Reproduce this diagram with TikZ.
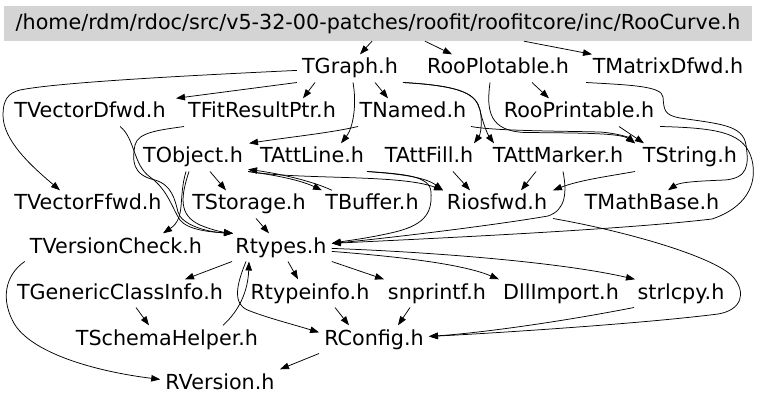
\documentclass[tikz,border=0pt]{standalone}
\usepackage{fontspec}
\setmainfont{DejaVu Sans}
\usetikzlibrary{arrows.meta}
\begin{document}
\begin{tikzpicture}[x=1pt,y=-1pt,
  lbl/.style={anchor=base,inner xsep=5pt,inner ysep=4pt,text height=15.5pt,text depth=4.3pt,
    font=\fontsize{20.7}{24}\selectfont},
  rootbox/.style={fill=black!17,draw=none,minimum width=748pt,minimum height=35pt,inner sep=0pt,
    text height=15.5pt,text depth=4.3pt,font=\fontsize{20.7}{24}\selectfont},
  edge/.style={draw=black,line width=0.75pt,-{Triangle[length=9pt,width=6.5pt]}}]
\useasboundingbox (0,0) rectangle (768,406);
\fill[white] (0,0) rectangle (768,406);
% nodes
\node[rootbox] (root) at (378,23.5) {/home/rdm/rdoc/src/v5-32-00-patches/roofit/roofitcore/inc/RooCurve.h};
\node[lbl] (tgraph) at (350,74) {TGraph.h};
\node[lbl] (rooplotable) at (498,74) {RooPlotable.h};
\node[lbl] (tmatrixdfwd) at (668,74) {TMatrixDfwd.h};
\node[lbl] (tvectordfwd) at (90,118) {TVectorDfwd.h};
\node[lbl] (tfitresultptr) at (262,118) {TFitResultPtr.h};
\node[lbl] (tnamed) at (413,118) {TNamed.h};
\node[lbl] (rooprintable) at (579,118) {RooPrintable.h};
\node[lbl] (tobject) at (193,163) {TObject.h};
\node[lbl] (tattline) at (312,163) {TAttLine.h};
\node[lbl] (tattfill) at (429,163) {TAttFill.h};
\node[lbl] (tattmarker) at (558,163) {TAttMarker.h};
\node[lbl] (tstring) at (690,163) {TString.h};
\node[lbl] (tvectorffwd) at (88,210) {TVectorFfwd.h};
\node[lbl] (tstorage) at (249,210) {TStorage.h};
\node[lbl] (tbuffer) at (372,210) {TBuffer.h};
\node[lbl] (riosfwd) at (497,210) {Riosfwd.h};
\node[lbl] (tmathbase) at (652,210) {TMathBase.h};
\node[lbl] (tversioncheck) at (116,253) {TVersionCheck.h};
\node[lbl] (rtypes) at (281,253) {Rtypes.h};
\node[lbl] (tgenericclassinfo) at (120,299) {TGenericClassInfo.h};
\node[lbl] (rtypeinfo) at (310,299) {Rtypeinfo.h};
\node[lbl] (snprintf) at (437,299) {snprintf.h};
\node[lbl] (dllimport) at (561,299) {DllImport.h};
\node[lbl] (strlcpy) at (681,299) {strlcpy.h};
\node[lbl] (tschemahelper) at (167,345) {TSchemaHelper.h};
\node[lbl] (rconfig) at (374,345) {RConfig.h};
\node[lbl] (rversion) at (220,389) {RVersion.h};
% edges from root
\draw[edge] ([xshift=-6pt]root.south) -- ([xshift=10pt]tgraph.north);
\draw[edge] ([xshift=47pt]root.south) -- ([xshift=-46pt]rooplotable.north);
\draw[edge] ([xshift=146pt]root.south) -- ([xshift=-76pt]tmatrixdfwd.north);
% TGraph
\draw[edge] (tgraph.south west) -- ([xshift=86pt]tvectordfwd.north);
\draw[edge] ([xshift=-35pt]tgraph.south) -- ([xshift=41pt]tfitresultptr.north);
\draw[edge] ([yshift=-2pt]tgraph.west) .. controls (200,75) and (60,82) .. (20,90)
  .. controls (8,93) and (3,100) .. (3,115) .. controls (3,140) and (30,165) .. ([xshift=-28pt]tvectorffwd.north);
\draw[edge] ([xshift=25pt]tgraph.south) -- ([xshift=-25pt]tnamed.north);
\draw[edge] ([xshift=3pt]tgraph.south) .. controls (357,105) and (353,128) .. ([xshift=29pt]tattline.north);
\draw[edge] ([xshift=53pt]tgraph.south) .. controls (465,86) and (476,95) .. (480,110)
  .. controls (483,124) and (480,135) .. ([xshift=45pt]tattfill.north);
\draw[edge] ([xshift=53pt]tgraph.south) .. controls (465,86) and (476,95) .. (480,110)
  .. controls (483,124) and (488,135) .. ([xshift=-64pt]tattmarker.north);
% RooPlotable
\draw[edge] ([xshift=34pt]rooplotable.south) -- ([xshift=-30pt]rooprintable.north);
\draw[edge] ([xshift=-8pt]rooplotable.south) .. controls (486,112) and (490,131) .. (525,132.5)
  .. controls (580,133) and (620,133) .. ([xshift=-55pt]tstring.north);
% TNamed
\draw[edge] ([xshift=58pt]tnamed.south) .. controls (495,131) and (560,131) .. (600,132)
  .. controls (615,133) and (628,137) .. ([xshift=-55pt]tstring.north);
\draw[edge] ([xshift=-55pt]tnamed.south) .. controls (330,133) and (290,137) .. ([xshift=56pt]tobject.north);
% RooPrintable
\draw[edge] ([xshift=40pt]rooprintable.south) -- ([xshift=-46pt]tstring.north);
\draw[edge] ([xshift=81pt]rooprintable.south) .. controls (720,128) and (745,133) .. (752,160)
  .. controls (758,185) and (745,208) .. (712,219) .. controls (620,230) and (420,239) .. ([yshift=4pt]rtypes.east);
% TMatrixDfwd
\draw[edge] ([xshift=-82pt]tmatrixdfwd.south) .. controls (630,85) and (662,86) .. (663,97)
  .. controls (664,110) and (664,115) .. (680,118) .. controls (720,124) and (743,125) .. (746,145)
  .. controls (749,165) and (748,178) .. (725,180) .. controls (700,181) and (680,182) .. ([xshift=16pt]tmathbase.north);
% TFitResultPtr, TVectorDfwd
\draw[edge] ([xshift=-78pt]tfitresultptr.south) .. controls (160,130) and (138,132) .. (135,145)
  .. controls (132,160) and (132,175) .. (155,180) .. controls (172,185) and (175,200) .. (178,212)
  .. controls (181,224) and (205,232) .. ([xshift=-48pt]rtypes.north);
\draw[edge] ([xshift=30pt]tvectordfwd.south) .. controls (135,138) and (133,165) .. (150,177)
  .. controls (168,190) and (172,208) .. (180,220) .. controls (188,230) and (210,232) .. ([xshift=-48pt]rtypes.north);
% TObject
\draw[edge] ([xshift=17pt]tobject.south) -- ([xshift=-23pt]tstorage.north);
\draw[edge] ([xshift=-7pt]tobject.south) .. controls (178,198) and (186,218) .. ([xshift=47pt]tversioncheck.north);
\draw[edge] ([xshift=-4pt]tobject.south) .. controls (181,196) and (178,215) .. (200,225)
  .. controls (212,230) and (222,232) .. ([xshift=-48pt]rtypes.north);
\draw[edge] (tobject.south east) .. controls (275,175) and (300,180) .. ([xshift=-50pt]tbuffer.north);
\draw[edge] ([xshift=-40pt]tbuffer.north) .. controls (310,180) and (275,173) .. ([yshift=-12pt]tobject.east);
\draw[edge] (tobject.south east) .. controls (300,180) and (400,174) .. ([xshift=-54pt]riosfwd.north);
% TAttLine
\draw[edge] ([xshift=55pt]tattline.south) .. controls (400,174) and (425,177) .. ([xshift=-54pt]riosfwd.north);
\draw[edge] ([xshift=55pt]tattline.south) .. controls (405,174) and (430,176) .. (431,192)
  .. controls (432,210) and (428,224) .. (395,232) .. controls (370,238) and (345,241) .. ([yshift=4pt]rtypes.east);
% TAttFill, TAttMarker, TString
\draw[edge] ([xshift=24pt]tattfill.south) -- ([xshift=-27pt]riosfwd.north);
\draw[edge] ([xshift=-22pt]tattmarker.south) -- ([xshift=24pt]riosfwd.north);
\draw[edge] ([xshift=5pt]tattmarker.south) .. controls (567,192) and (566,210) .. (548,216)
  .. controls (490,226) and (380,239) .. ([yshift=4pt]rtypes.east);
\draw[edge] ([xshift=-55pt]tstring.south) .. controls (610,176) and (580,180) .. ([xshift=56pt]riosfwd.north);
% TStorage
\draw[edge] ([xshift=7pt]tstorage.south) -- ([xshift=-12pt]rtypes.north);
% Riosfwd
\draw[edge] ([xshift=56pt]riosfwd.south) .. controls (630,232) and (718,258) .. (734,278)
  .. controls (746,293) and (742,310) .. (718,314) .. controls (640,324) and (480,334) .. ([yshift=3pt]rconfig.east);
% Rtypes
\draw[edge] ([xshift=-49pt]rtypes.south) -- ([xshift=65pt]tgenericclassinfo.north);
\draw[edge] ([xshift=7pt]rtypes.south) -- ([xshift=-12pt]rtypeinfo.north);
\draw[edge] (rtypes.south east) -- ([xshift=-53pt]snprintf.north);
\draw[edge] ([yshift=-4pt]rtypes.east) .. controls (390,256) and (460,263) .. ([xshift=-62pt]dllimport.north);
\draw[edge] ([yshift=-1pt]rtypes.east) .. controls (430,252) and (560,262) .. ([xshift=-46pt]strlcpy.north);
\draw[edge] ([xshift=-35pt]rtypes.south) .. controls (236,286) and (232,305) .. (250,311)
  .. controls (268,318) and (295,325) .. ([yshift=7pt]rconfig.west);
% lower
\draw[edge] ([xshift=16pt]tgenericclassinfo.south) -- ([xshift=-18pt]tschemahelper.north);
\draw[edge] ([xshift=56pt]tschemahelper.north) .. controls (240,310) and (248,290) .. ([xshift=-32pt]rtypes.south);
\draw[edge] ([xshift=25pt]rtypeinfo.south) -- ([xshift=-25pt]rconfig.north);
\draw[edge] ([xshift=-27pt]snprintf.south) -- ([xshift=24pt]rconfig.north);
\draw[edge] ([xshift=-47pt]strlcpy.south) .. controls (560,322) and (480,333) .. ([yshift=3pt]rconfig.east);
\draw[edge] (rconfig.south west) -- ([xshift=60pt]rversion.north);
\draw[edge] (tversioncheck.south west) .. controls (5,275) and (0,300) .. (15,325)
  .. controls (35,355) and (100,372) .. ([yshift=4pt]rversion.west);
\end{tikzpicture}
\end{document}
